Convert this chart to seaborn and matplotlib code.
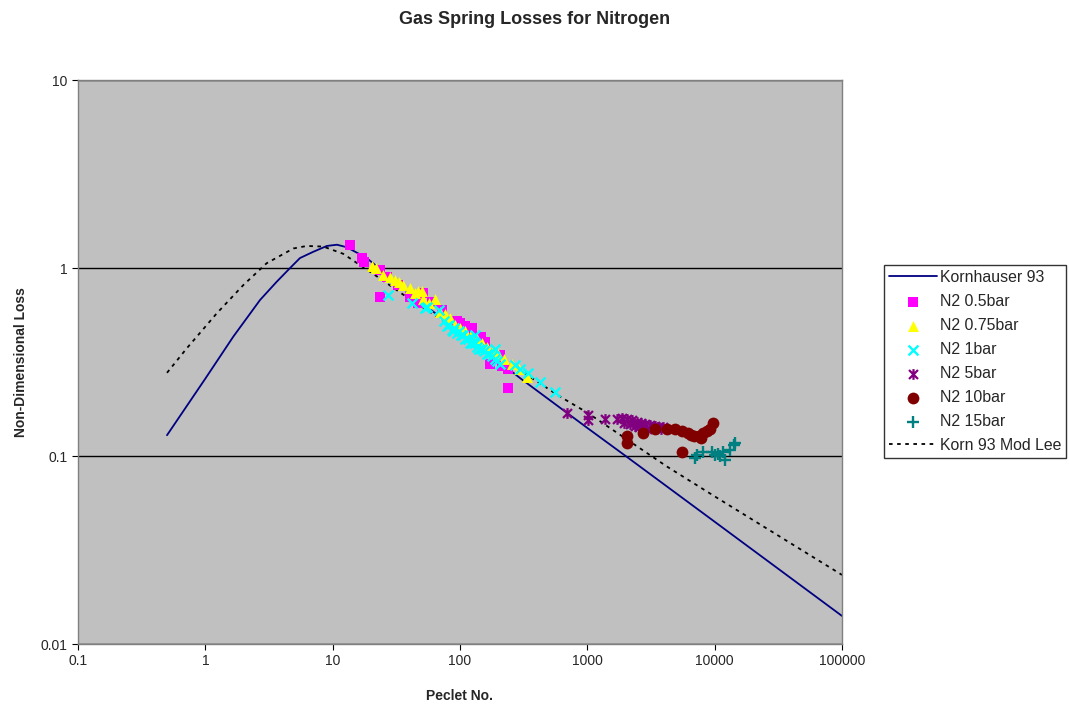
import numpy as np
import pandas as pd
import matplotlib
matplotlib.use("Agg")
import matplotlib.pyplot as plt
from matplotlib.path import Path
import seaborn as sns

# Kornhauser 93 model curve
korn_x = [0.5, 1.0, 1.66, 2.69, 3.64, 4.63, 5.54, 7.05, 9.0, 10.8, 12.9, 18.5,
          30, 50, 100, 200, 300, 1000, 2000, 10000, 100000]
korn_y = [0.129, 0.258, 0.432, 0.676, 0.846, 1.0, 1.13, 1.22, 1.31, 1.33, 1.29, 1.13,
          0.86, 0.65, 0.46, 0.32, 0.258, 0.141, 0.1, 0.0447, 0.0141]

# Korn 93 Mod Lee curve
lee_x = [0.5, 0.715, 1.23, 1.99, 3.03, 4.91, 6.25, 8.45, 12.1, 23.5, 36,
         100, 200, 611, 1000, 4207, 10000, 100000]
lee_y = [0.277, 0.374, 0.574, 0.812, 1.06, 1.27, 1.31, 1.30, 1.19, 0.88, 0.72,
         0.46, 0.34, 0.207, 0.17, 0.088, 0.061, 0.0233]

# measured data
n05_x = [13.7, 16.9, 17.5, 23.5, 26.6, 23.5, 32.8, 40.6, 47.1, 51.3, 60, 72, 94,
         100, 110, 120, 124, 131, 145, 157, 172, 207, 213, 240, 240]
n05_y = [1.32, 1.13, 1.07, 0.98, 0.90, 0.70, 0.81, 0.70, 0.65, 0.74, 0.66, 0.60,
         0.52, 0.51, 0.49, 0.46, 0.48, 0.43, 0.43, 0.405, 0.31, 0.344, 0.30,
         0.29, 0.23]

n075_x = [20.3, 22, 25, 28, 30.9, 33, 35.9, 40.6, 44, 47.1, 50, 51.6, 57, 63.7,
          70, 76, 83.5, 92, 100, 110, 122, 135, 148, 162, 180, 200, 222, 255,
          290, 334]
n075_y = [1.02, 1.0, 0.92, 0.90, 0.86, 0.84, 0.81, 0.78, 0.74, 0.75, 0.75, 0.68,
          0.65, 0.68, 0.58, 0.57, 0.54, 0.50, 0.48, 0.46, 0.44, 0.42, 0.40, 0.38,
          0.36, 0.35, 0.33, 0.31, 0.29, 0.264]

n1_x = [27.4, 41.8, 53.2, 54.7, 67.8, 75, 78.7, 82, 86, 88, 90, 94, 98, 102,
        106, 110, 115, 120, 125, 131, 131, 136, 142, 148, 155, 162, 170, 178,
        189, 189, 197, 207, 271, 297, 344, 425, 558]
n1_y = [0.72, 0.65, 0.61, 0.62, 0.60, 0.52, 0.49, 0.50, 0.47, 0.46, 0.48, 0.45,
        0.46, 0.44, 0.44, 0.42, 0.42, 0.40, 0.40, 0.40, 0.44, 0.38, 0.37, 0.37,
        0.36, 0.35, 0.35, 0.34, 0.33, 0.37, 0.32, 0.31, 0.305, 0.29, 0.275,
        0.248, 0.22]

n5_x = [690, 1021, 1021, 1380, 1706, 1860, 1950, 2050, 2150, 2250, 2350, 2450,
        2550, 2650, 2750, 2850, 2950, 3100, 3250, 3400, 3600, 3800, 3950]
n5_y = [0.169, 0.165, 0.155, 0.158, 0.158, 0.160, 0.150, 0.158, 0.148, 0.155,
        0.145, 0.152, 0.142, 0.150, 0.145, 0.148, 0.140, 0.146, 0.142, 0.145,
        0.142, 0.140, 0.142]

n10_x = [2040, 2040, 2760, 3410, 4210, 4900, 5520, 5520, 6230, 6500, 6820, 7470,
         7800, 8170, 8680, 9220, 9790]
n10_y = [0.127, 0.117, 0.132, 0.140, 0.140, 0.140, 0.135, 0.105, 0.132, 0.130,
         0.127, 0.127, 0.125, 0.132, 0.135, 0.140, 0.149]

n15_x = [7060, 7240, 8170, 9480, 10000, 10700, 11000, 11700, 12100, 13200,
         14100, 14500]
n15_y = [0.098, 0.101, 0.105, 0.105, 0.101, 0.103, 0.100, 0.105, 0.095, 0.108,
         0.114, 0.117]

x_ticks = [0.1, 1, 10, 100, 1000, 10000, 100000]
x_labels = ["0.1", "1", "10", "100", "1000", "10000", "100000"]
y_ticks = [0.01, 0.1, 1, 10]
y_labels = ["0.01", "0.1", "1", "10"]

sns.set_style("white")
plt.rcParams["font.family"] = ["Liberation Sans", "DejaVu Sans"]

fig = plt.figure(figsize=(10.69, 7.04), dpi=100)
ax = fig.add_axes([78 / 1069, 1 - 644 / 704, (842 - 78) / 1069, (644 - 80) / 704])
ax.set_facecolor("#C0C0C0")

# asterisk marker: x plus vertical bar
star = Path([(-1, -1), (1, 1), (-1, 1), (1, -1), (0, -1.2), (0, 1.2)],
            [Path.MOVETO, Path.LINETO, Path.MOVETO, Path.LINETO, Path.MOVETO, Path.LINETO])

sns.lineplot(x=korn_x, y=korn_y, ax=ax, color="#000080", linewidth=1.3,
             label="Kornhauser 93", sort=False)
sns.scatterplot(x=n05_x, y=n05_y, ax=ax, color="#FF00FF", marker="s", s=46,
                linewidth=0, label="N2 0.5bar", zorder=3)
sns.scatterplot(x=n075_x, y=n075_y, ax=ax, color="#FFFF00", marker="^", s=62,
                linewidth=0, label="N2 0.75bar", zorder=3)
sns.scatterplot(x=n1_x, y=n1_y, ax=ax, color="#00FFFF", marker="x", s=50,
                linewidth=1.7, label="N2 1bar", zorder=3)
sns.scatterplot(x=n5_x, y=n5_y, ax=ax, color="#800080", marker=star, s=60,
                edgecolor="#800080", linewidth=1.6, label="N2 5bar", zorder=3)
sns.scatterplot(x=n10_x, y=n10_y, ax=ax, color="#800000", marker="o", s=72,
                linewidth=0, label="N2 10bar", zorder=3)
sns.scatterplot(x=n15_x, y=n15_y, ax=ax, color="#008080", marker="+", s=70,
                linewidth=1.7, label="N2 15bar", zorder=3)
sns.lineplot(x=lee_x, y=lee_y, ax=ax, color="black", linewidth=1.3,
             linestyle=(0, (2, 2.5)), label="Korn 93 Mod Lee", sort=False)

ax.set_xscale("log")
ax.set_yscale("log")
ax.set_xlim(0.1, 100000)
ax.set_ylim(0.01, 10)
ax.set_xticks(x_ticks)
ax.set_xticklabels(x_labels)
ax.set_yticks(y_ticks)
ax.set_yticklabels(y_labels)
ax.minorticks_off()
ax.tick_params(axis="both", which="major", direction="out", length=4, width=0.8,
               color="black", labelsize=10, bottom=True, left=True)
ax.yaxis.grid(True, color="black", linewidth=1)
ax.xaxis.grid(False)
for sp in ax.spines.values():
    sp.set_color("#808080")
    sp.set_linewidth(1)

ax.set_xlabel("Peclet No.", fontsize=10, fontweight="bold", labelpad=15)
ax.set_ylabel("Non-Dimensional Loss", fontsize=10, fontweight="bold", labelpad=9)
fig.text(0.5, 1 - 20 / 704, "Gas Spring Losses for Nitrogen", ha="center",
         va="center", fontsize=13, fontweight="bold")

handles, labels = ax.get_legend_handles_labels()
ax.legend_.remove()
leg = fig.legend(handles, labels, loc="upper left", bbox_to_anchor=(884 / 1069, 1 - 265 / 704),
                 fontsize=11.4, frameon=True, fancybox=False, edgecolor="black",
                 handlelength=3.05, handletextpad=0.2, labelspacing=0.57,
                 borderpad=0.3, borderaxespad=0)
leg.get_frame().set_linewidth(1)

fig.savefig("out.png", dpi=100, facecolor="white")
